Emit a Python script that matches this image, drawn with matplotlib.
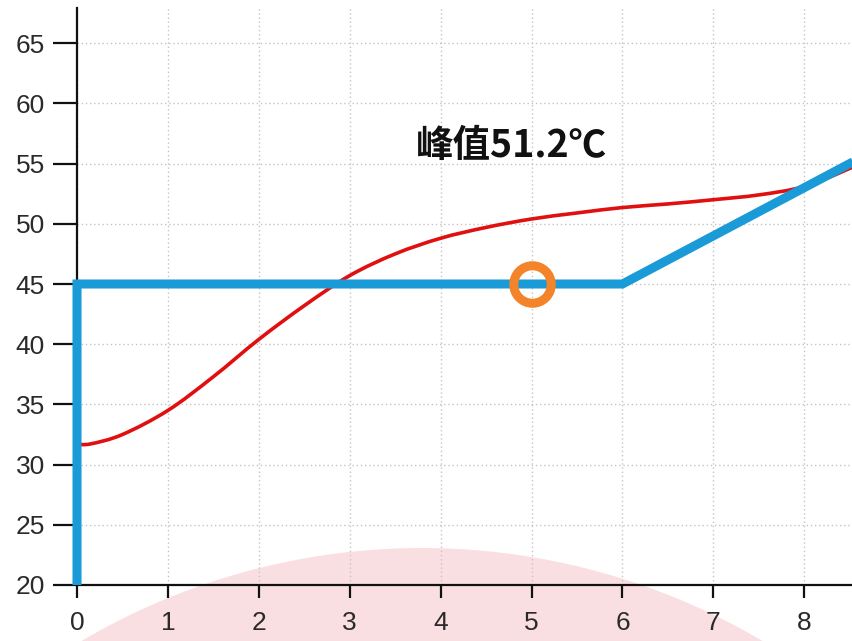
import matplotlib
matplotlib.use("Agg")
import matplotlib.pyplot as plt
from matplotlib.patches import Ellipse, PathPatch
from matplotlib.path import Path

# Data
red_x = [0, 0.15, 0.5, 1, 1.5, 2, 2.5, 3, 3.5, 4, 4.5, 5, 5.5, 6, 6.5, 7, 7.5, 8, 8.5, 9]
red_y = [31.7, 31.72, 32.5, 34.5, 37.3, 40.4, 43.2, 45.7, 47.5, 48.8, 49.7, 50.4, 50.9, 51.35, 51.65, 52.0, 52.4, 53.1, 54.6, 56.4]
blue_x = [0, 0, 6, 9]
blue_y = [20, 45, 45, 57]
marker_x = [5]
marker_y = [45]
label_text = "峰值51.2℃"
label_pos = (4.78, 56.5)
xticks = [0, 1, 2, 3, 4, 5, 6, 7, 8]
yticks = [20, 25, 30, 35, 40, 45, 50, 55, 60, 65]

W, H = 853, 641
fig = plt.figure(figsize=(W / 100, H / 100), dpi=100)

# Pink background arc
cx, cy, r = 422, 641 - 1218, 670
bg = Ellipse((cx / W, cy / H), 2 * r / W, 2 * r / H, transform=fig.transFigure,
             facecolor="#fadfe2", edgecolor="none", zorder=-5)
fig.patches.append(bg)

left, bottom, top = 77, 585, 8
ax = fig.add_axes([left / W, (H - bottom) / H, 1 - left / W + 0.01, (bottom - top) / H])
ax.set_facecolor("none")
ax.set_xlim(0, 8.63)
ax.set_ylim(20, 20 + (bottom - top) / 12.04)


def smooth_path(xs, ys):
    pts = list(zip(xs, ys))
    verts = [pts[0]]
    codes = [Path.MOVETO]
    n = len(pts)
    for i in range(n - 1):
        p0 = pts[i - 1] if i > 0 else pts[i]
        p1 = pts[i]
        p2 = pts[i + 1]
        p3 = pts[i + 2] if i + 2 < n else pts[i + 1]
        c1 = (p1[0] + (p2[0] - p0[0]) / 6, p1[1] + (p2[1] - p0[1]) / 6)
        c2 = (p2[0] - (p3[0] - p1[0]) / 6, p2[1] - (p3[1] - p1[1]) / 6)
        verts += [c1, c2, p2]
        codes += [Path.CURVE4] * 3
    return Path(verts, codes)


red = PathPatch(smooth_path(red_x, red_y), facecolor="none", edgecolor="#e01010",
                lw=2.6, zorder=3, capstyle="butt")
ax.add_patch(red)

ax.plot(blue_x, blue_y, color="#1a9ad6", lw=6.5, zorder=4, solid_joinstyle="miter",
        solid_capstyle="butt", clip_on=False)
ax.plot(marker_x, marker_y, linestyle="none", marker="o", markersize=27,
        markerfacecolor="none", markeredgecolor="#f4842a", markeredgewidth=6.5, zorder=5)

ax.text(label_pos[0], label_pos[1], label_text, ha="center", va="center",
        fontsize=27, fontweight="bold", color="#111111",
        family=["Noto Sans CJK SC", "DejaVu Sans"], zorder=6)

ax.set_xticks(xticks)
ax.set_yticks(yticks)
ax.grid(True, color="#c4c4c4", linestyle=(0, (1, 2)), lw=1, zorder=0)
for s in ["top", "right"]:
    ax.spines[s].set_visible(False)
for s in ["left", "bottom"]:
    ax.spines[s].set_linewidth(1.6)
    ax.spines[s].set_color("#111111")
    ax.spines[s].set_zorder(2)
ax.tick_params(axis="y", length=17, width=1.6, pad=6, labelsize=19, colors="#111111")
ax.tick_params(axis="x", length=9, width=1.6, pad=10, labelsize=19, colors="#111111")
for lab in ax.get_xticklabels() + ax.get_yticklabels():
    lab.set_family("Liberation Sans")
    lab.set_color("#2a2a2a")

fig.savefig("out.png", dpi=100)
